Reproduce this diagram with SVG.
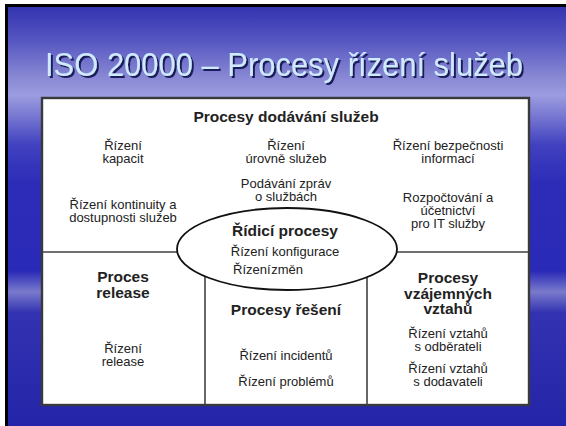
<svg xmlns="http://www.w3.org/2000/svg" width="566" height="426" viewBox="0 0 566 426">
<defs>
<linearGradient id="bg" x1="0" y1="0" x2="0" y2="1">
<stop offset="0" stop-color="#3434b0"/>
<stop offset="0.08" stop-color="#5656c2"/>
<stop offset="0.16" stop-color="#8484d2"/>
<stop offset="0.21" stop-color="#9c9ce0"/>
<stop offset="0.26" stop-color="#7878d2"/>
<stop offset="0.33" stop-color="#4040c0"/>
<stop offset="0.42" stop-color="#2c2cb8"/>
<stop offset="0.63" stop-color="#2a2ab8"/>
<stop offset="0.68" stop-color="#7a7acc"/>
<stop offset="0.73" stop-color="#3232b2"/>
<stop offset="1" stop-color="#2424a8"/>
</linearGradient>
<filter id="shadow" x="-5%" y="-20%" width="110%" height="150%">
<feDropShadow dx="2" dy="2" stdDeviation="0.6" flood-color="#1c1c5a" flood-opacity="1"/>
</filter>
<style>
.t{font-family:"Liberation Sans",Arial,sans-serif;font-size:13px;fill:#222;text-anchor:middle}
.h{font-family:"Liberation Sans",Arial,sans-serif;font-size:15.5px;font-weight:bold;fill:#222;text-anchor:middle}
.ln{stroke:#404040;stroke-width:1.6;fill:none}
.ttl{font-family:"Liberation Sans",Arial,sans-serif;font-size:34px;text-anchor:middle;fill:#cfe9ff}
</style>
</defs>
<rect width="566" height="426" fill="#ffffff"/>
<rect x="5" y="4" width="561" height="422" fill="#000000"/>
<rect x="8" y="7" width="558" height="419" fill="url(#bg)"/>
<g id="title">
<text class="ttl" x="284" y="76" textLength="478" lengthAdjust="spacingAndGlyphs" filter="url(#shadow)">ISO 20000 – Procesy řízení služeb</text>
</g>
<rect id="frame" x="42" y="98" width="487" height="307" fill="#ffffff" stroke="#3a3a3a" stroke-width="2.4"/>
<g id="connectors">
<line class="ln" x1="42" y1="252" x2="178" y2="252"/>
<line class="ln" x1="396" y1="252" x2="529" y2="252"/>
<line class="ln" x1="205" y1="272" x2="205" y2="405"/>
<line class="ln" x1="367" y1="274" x2="367" y2="405"/>
</g>
<g id="delivery">
<text class="h" x="286" y="122">Procesy dodávání služeb</text>
<text class="t" x="123" y="150">Řízení<tspan x="123" dy="13">kapacit</tspan></text>
<text class="t" x="286" y="150">Řízení<tspan x="286" dy="13">úrovně služeb</tspan></text>
<text class="t" x="448" y="150">Řízení bezpečnosti<tspan x="448" dy="13">informací</tspan></text>
<text class="t" x="123" y="209">Řízení kontinuity a<tspan x="123" dy="13">dostupnosti služeb</tspan></text>
<text class="t" x="286" y="188">Podávání zpráv<tspan x="286" dy="13">o službách</tspan></text>
<text class="t" x="448" y="202">Rozpočtování a<tspan x="448" dy="13">účetnictví</tspan><tspan x="448" dy="13">pro IT služby</tspan></text>
</g>
<g id="control">
<ellipse cx="287" cy="249" rx="110" ry="41" fill="#ffffff" stroke="#111" stroke-width="1.8"/>
<text class="h" x="285" y="236">Řídicí procesy</text>
<text class="t" x="285" y="256">Řízení konfigurace<tspan x="233" dy="18" style="text-anchor:start" word-spacing="-3">Řízení změn</tspan></text>
</g>
<g id="release">
<text class="h" x="123" y="282">Proces<tspan x="123" dy="16">release</tspan></text>
<text class="t" x="123" y="353">Řízení<tspan x="123" dy="13">release</tspan></text>
</g>
<g id="resolution">
<text class="h" x="286" y="315">Procesy řešení</text>
<text class="t" x="286" y="360">Řízení incidentů</text>
<text class="t" x="286" y="386">Řízení problémů</text>
</g>
<g id="relationship">
<text class="h" x="448" y="283">Procesy<tspan x="448" dy="16">vzájemných</tspan><tspan x="448" dy="15">vztahů</tspan></text>
<text class="t" x="448" y="338">Řízení vztahů<tspan x="448" dy="13">s odběrateli</tspan></text>
<text class="t" x="448" y="373">Řízení vztahů<tspan x="448" dy="13">s dodavateli</tspan></text>
</g>
</svg>
